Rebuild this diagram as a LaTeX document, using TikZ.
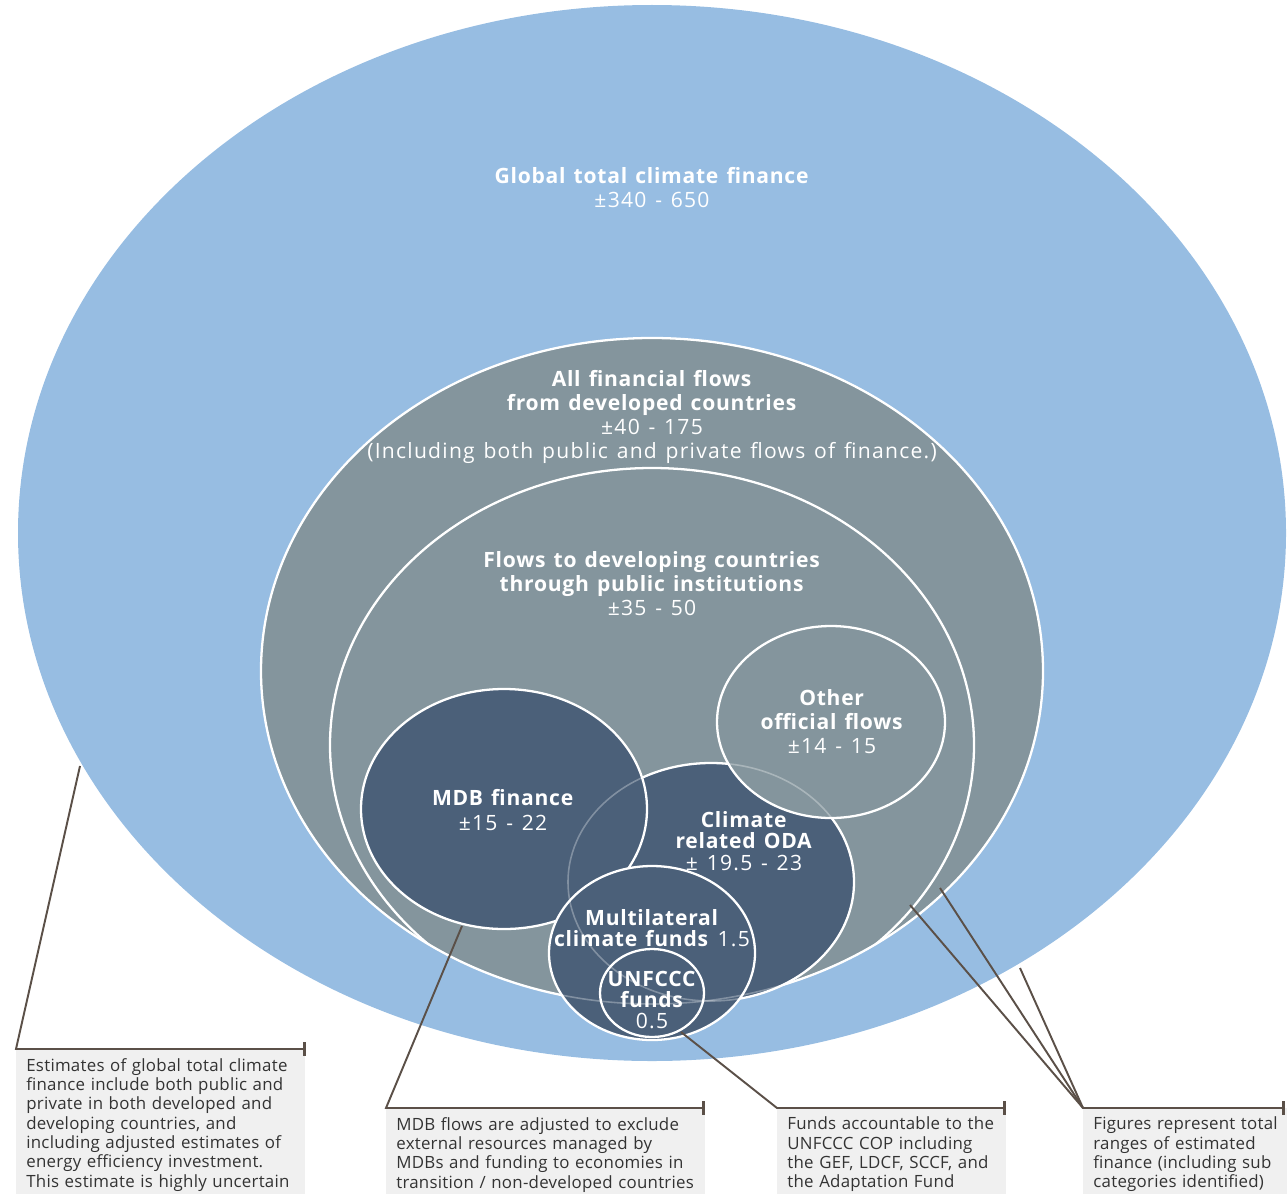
\documentclass[tikz,border=0pt]{standalone}
\usepackage{fontspec}
\setmainfont{Open Sans}
\newfontfamily\ringfont[UprightFeatures={LetterSpace=6}, BoldFeatures={LetterSpace=3.5}, WordSpace=1.3]{Open Sans}
\newfontfamily\notefont[LetterSpace=1.5]{Open Sans}
\usetikzlibrary{arrows.meta}
\definecolor{skyfill}{HTML}{97BDE2}
\definecolor{slatefill}{HTML}{84959D}
\definecolor{navyfill}{HTML}{4B6079}
\definecolor{leadcol}{HTML}{5B5048}
\definecolor{notefill}{HTML}{F0F0F0}
\definecolor{notetext}{HTML}{333333}

\begin{document}
\begin{tikzpicture}[x=0.02cm, y=-0.02cm,
    ring/.style={draw=white, line width=1.3pt},
    ghost/.style={draw=white, opacity=0.3, line width=0.9pt},
    circletext/.style={text=white, align=center, font=\ringfont\fontsize{12}{12.2}\selectfont},
    notebox/.style={fill=notefill, text=notetext, anchor=north west, align=left,
      inner xsep=5.7pt, inner ysep=5pt, font=\notefont\fontsize{9.6}{11}\selectfont},
    leader/.style={draw=leadcol, line width=1.1pt},
    leaderbar/.style={leader, -{Bar[width=7.5pt, line width=1.7pt]}}]
  \useasboundingbox (0,0) rectangle (1287,1193);
  \clip (0,0) rectangle (1287,1193);

  % Global total - largest ellipse
  \fill[skyfill] (652,533) ellipse [x radius=634, y radius=528];

  % All flows from developed countries
  \draw[ring, fill=slatefill] (652,671) ellipse [x radius=391, y radius=333];

  % Flows through public institutions - kept inside the ellipse above
  \begin{scope}
    \clip (652,671) ellipse [x radius=391, y radius=333];
    \draw[ring] (652,745) ellipse [x radius=322, y radius=277];
  \end{scope}

  % Sub categories
  \draw[ring, fill=navyfill] (711,882) ellipse [x radius=143, y radius=119];   % ODA
  \draw[ring, fill=slatefill] (831,722) ellipse [x radius=114, y radius=96];   % other flows
  \draw[ring, fill=navyfill] (504,809) ellipse [x radius=143, y radius=120];   % MDB
  \draw[ring, fill=navyfill] (652,953) ellipse [x radius=103, y radius=87];    % multilateral
  \draw[ring, fill=navyfill] (652,993) ellipse [x radius=52, y radius=44];     % UNFCCC

  % hidden edges shown faintly
  \draw[ghost] (711,882) ellipse [x radius=143, y radius=119];
  \draw[ghost] (652,671) ellipse [x radius=391, y radius=333];
  \begin{scope}
    \clip (652,671) ellipse [x radius=391, y radius=333];
    \draw[ghost] (652,745) ellipse [x radius=322, y radius=277];
  \end{scope}

  % Labels in the ellipses
  \node[circletext, font=\ringfont\fontsize{12}{13.7}\selectfont] (globaltxt) at (652,188)
    {\textbf{Global total climate finance}\\±340 - 650};
  \node[circletext, font=\ringfont\fontsize{12}{13.7}\selectfont] (alltxt) at (652,417)
    {\textbf{All financial flows}\\\textbf{from developed countries}\\±40 - 175\\(Including both public and private flows of finance.)};
  \node[circletext, font=\ringfont\fontsize{12}{13.7}\selectfont] (flowstxt) at (652,584)
    {\textbf{Flows to developing countries}\\\textbf{through public institutions}\\±35 - 50};
  \node[circletext, font=\ringfont\fontsize{12}{13.7}\selectfont] (othertxt) at (832,722)
    {\textbf{Other}\\\textbf{official flows}\\±14 - 15};
  \node[circletext, font=\ringfont\fontsize{12}{13.7}\selectfont] (mdbtxt) at (503,810)
    {\textbf{MDB finance}\\±15 - 22};
  \node[circletext] (odatxt) at (744,841)
    {\textbf{Climate}\\\textbf{related ODA}\\± 19.5 - 23};
  \node[circletext] (multitxt) at (652,928)
    {\textbf{Multilateral}\\\textbf{climate funds} 1.5};
  \node[circletext] (unfccctxt) at (652,1000)
    {\textbf{UNFCCC}\\\textbf{funds}\\0.5};

  % Notes along the bottom
  \node[notebox, text width=153pt] (globalnote) at (16,1049)
    {Estimates of global total climate\\finance include both public and\\private in both developed and\\developing countries, and\\including adjusted estimates of\\energy efficiency investment.\\This estimate is highly uncertain};
  \node[notebox, text width=170pt] (mdbnote) at (386,1108)
    {MDB flows are adjusted to exclude\\external resources managed by\\MDBs and funding to economies in\\transition / non-developed countries};
  \node[notebox, text width=118.5pt] (unfcccnote) at (777,1108)
    {Funds accountable to the\\UNFCCC COP including\\the GEF, LDCF, SCCF, and\\the Adaptation Fund};
  \node[notebox, text width=118pt] (rangenote) at (1083,1108)
    {Figures represent total\\ranges of estimated\\finance (including sub\\categories identified)};

  % Leader lines
  \coordinate (globalpt) at (80,766);
  \coordinate (mdbpt) at (462,926);
  \coordinate (unfcccpt) at (681,1032);
  \coordinate (rangeA) at (910,905);
  \coordinate (rangeB) at (940,888);
  \coordinate (rangeC) at (1020,968);
  \coordinate (rangeend) at (1285,1108);
  \draw[leaderbar] (globalpt) -- (globalnote.north west) -- (globalnote.north east);
  \draw[leaderbar] (mdbpt) -- (mdbnote.north west) -- (mdbnote.north east);
  \draw[leaderbar] (unfcccpt) -- (unfcccnote.north west) -- (unfcccnote.north east);
  \draw[leaderbar] (rangeA) -- (rangenote.north west) -- (rangeend);
  \draw[leader] (rangeB) -- (rangenote.north west);
  \draw[leader] (rangeC) -- (rangenote.north west);
\end{tikzpicture}
\end{document}
